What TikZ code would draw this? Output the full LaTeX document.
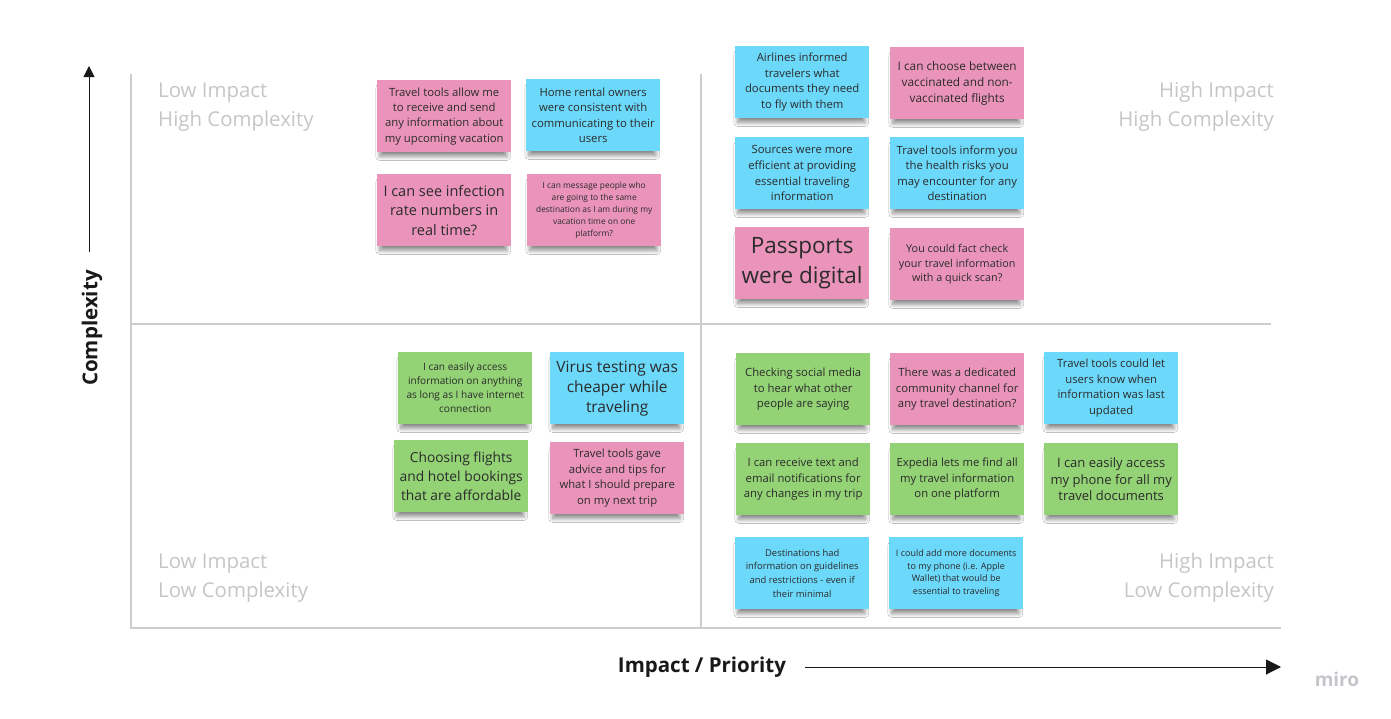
\documentclass[tikz,border=0pt]{standalone}
\usepackage{fontspec}
\setmainfont{Open Sans}
\usetikzlibrary{arrows.meta,shadows.blur}
\definecolor{stpink}{HTML}{EA94BB}
\definecolor{stblue}{HTML}{6CD8FA}
\definecolor{stgreen}{HTML}{93D275}
\definecolor{axisgray}{HTML}{CDCDCD}
\definecolor{labelgray}{HTML}{C6C6C6}
\definecolor{notetext}{HTML}{2B2B2B}
\definecolor{mirogray}{HTML}{C5C5CC}
\newcommand{\fsz}[2]{\fontsize{#1}{#2}\selectfont}
\tikzset{
  note/.style={anchor=north west, minimum width=134pt, minimum height=72pt,
    inner sep=1pt, align=center, text=notetext,
    blur shadow={shadow xshift=-1pt, shadow yshift=-6.5pt, shadow opacity=45,
      shadow scale=0.95, shadow blur steps=16, shadow blur radius=4pt}},
  nf/.style 2 args={font=\fsz{#1}{#2}},
  pinknote/.style={note, fill=stpink},
  bluenote/.style={note, fill=stblue},
  greennote/.style={note, fill=stgreen},
  axisline/.style={draw=axisgray, line width=1.4pt},
  axisarrow/.style={draw=black!90, line width=1pt},
  corner/.style={text=labelgray, font=\fsz{20.4}{29}, inner sep=0pt},
  axislabel/.style={text=black!90, font=\bfseries\fsz{20.5}{24}, inner sep=0pt}
}
\begin{document}
\begin{tikzpicture}[x=1pt, y=-1pt]
\useasboundingbox (0,0) rectangle (1391,718);
\fill[white] (0,0) rectangle (1391,718);

% grid
\coordinate (lt) at (131,74);
\coordinate (lb) at (131,628);
\coordinate (br) at (1281,628);
\coordinate (mt) at (701,74);
\coordinate (mb) at (701,628);
\coordinate (hl) at (131,324);
\coordinate (hr) at (1271,324);
\draw[axisline] (lt) -- (lb) -- (br);
\draw[axisline] (mt) -- (mb);
\draw[axisline] (hl) -- (hr);

% axes arrows
\coordinate (ya) at (89,252);
\coordinate (yb) at (89,66);
\draw[axisarrow, -{Triangle[length=11pt,width=11pt]}] (ya) -- (yb);
\node[axislabel, rotate=90] (ylab) at (92,328) {Complexity};
\node[axislabel] (xlab) at (702,667) {Impact / Priority};
\coordinate (xa) at (805,667);
\coordinate (xb) at (1281,667);
\draw[axisarrow, -{Triangle[length=15pt,width=15pt]}] (xa) -- (xb);

% corner labels
\node[corner, anchor=base west] (c1a) at (158,97) {Low Impact};
\node[corner, anchor=base west] (c1b) at (158,126) {High Complexity};
\node[corner, anchor=base east] (c2a) at (1274,97) {High Impact};
\node[corner, anchor=base east] (c2b) at (1274,126) {High Complexity};
\node[corner, anchor=base west] (c3a) at (158,568) {Low Impact};
\node[corner, anchor=base west] (c3b) at (158,597) {Low Complexity};
\node[corner, anchor=base east] (c4a) at (1274,568) {High Impact};
\node[corner, anchor=base east] (c4b) at (1274,597) {Low Complexity};

% miro
\node[text=mirogray, font=\bfseries\fsz{19}{22}, inner sep=0pt] (miro) at (1337,679) {miro};

% top-left quadrant
\node[pinknote, nf={11.3}{15.3}] (n1) at (377,80) {Travel tools allow me\\to receive and send\\any information about\\my upcoming vacation};
\node[bluenote, nf={11.3}{15.3}] (n2) at (526,79) {Home rental owners\\were consistent with\\communicating to their\\users};
\node[pinknote, nf={14.5}{19.5}] (n3) at (377,174) {I can see infection\\rate numbers in\\real time?};
\node[pinknote, nf={8.4}{11.9}] (n4) at (527,174) {I can message people who\\are going to the same\\destination as I am during my\\vacation time on one\\platform?};

% top-right quadrant
\node[bluenote, nf={11.3}{15.6}] (n5) at (735,46) {Airlines informed\\travelers what\\documents they need\\to fly with them};
\node[pinknote, nf={11.8}{16}] (n6) at (890,47) {I can choose between\\vaccinated and non-\\vaccinated flights};
\node[bluenote, nf={11.3}{15.6}] (n7) at (735,137) {Sources were more\\efficient at providing\\essential traveling\\information};
\node[bluenote, nf={11.3}{15.6}] (n8) at (890,137) {Travel tools inform you\\the health risks you\\may encounter for any\\destination};
\node[pinknote, nf={22.5}{30}] (n9) at (735,227) {Passports\\were digital};
\node[pinknote, nf={10.8}{14.6}] (n10) at (890,228) {You could fact check\\your travel information\\with a quick scan?};

% bottom-left quadrant
\node[greennote, nf={10.1}{14}] (n11) at (398,352) {I can easily access\\information on anything\\as long as I have internet\\connection};
\node[bluenote, nf={15.5}{20}] (n12) at (550,352) {Virus testing was\\cheaper while\\traveling};
\node[greennote, nf={13.8}{19}] (n13) at (394,440) {Choosing flights\\and hotel bookings\\that are affordable};
\node[pinknote, nf={11.3}{15.6}] (n14) at (550,442) {Travel tools gave\\advice and tips for\\what I should prepare\\on my next trip};

% bottom-right quadrant
\node[greennote, nf={11.3}{15.4}] (n15) at (736,353) {Checking social media\\to hear what other\\people are saying};
\node[pinknote, nf={11.3}{15.4}] (n16) at (890,353) {There was a dedicated\\community channel for\\any travel destination?};
\node[bluenote, nf={11.3}{15.7}] (n17) at (1044,352) {Travel tools could let\\users know when\\information was last\\updated};
\node[greennote, nf={11.3}{15.4}] (n18) at (736,443) {I can receive text and\\email notifications for\\any changes in my trip};
\node[greennote, nf={11.3}{15.4}] (n19) at (890,443) {Expedia lets me find all\\my travel information\\on one platform};
\node[greennote, nf={13}{16.7}] (n20) at (1044,443) {I can easily access\\my phone for all my\\travel documents};
\node[bluenote, nf={9.4}{13.6}] (n21) at (735,537) {Destinations had\\information on guidelines\\and restrictions - even if\\their minimal};
\node[bluenote, nf={9}{12.8}] (n22) at (889,537) {I could add more documents\\to my phone (i.e. Apple\\Wallet) that would be\\essential to traveling};
\end{tikzpicture}
\end{document}
